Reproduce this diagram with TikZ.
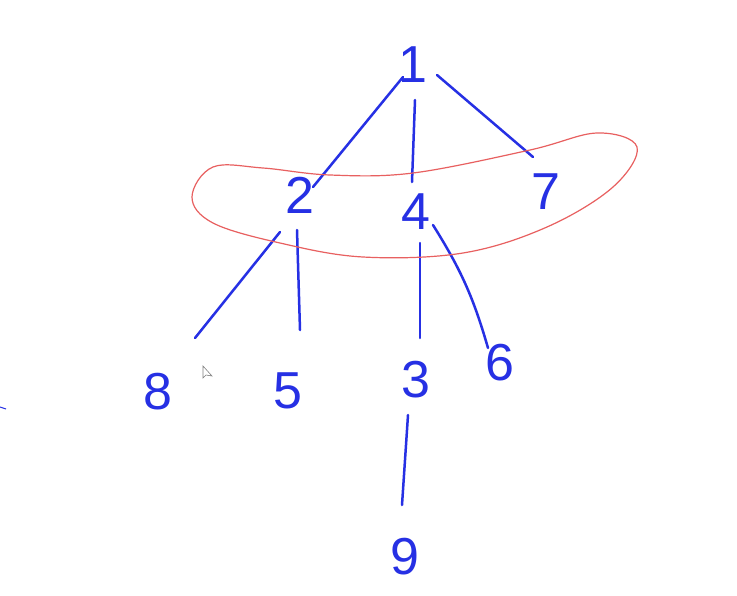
\documentclass[tikz,border=0pt]{standalone}
\usepackage{fontspec}
\setmainfont{Liberation Sans}
\definecolor{ink}{RGB}{38,48,228}
\definecolor{loop}{RGB}{232,96,96}
\tikzset{
  num/.style={circle,inner sep=0pt,minimum size=36pt,text=ink,font=\fontsize{52}{52}\selectfont},
  edge/.style={draw=ink,line width=2.5pt,line cap=round},
  group/.style={draw=loop,line width=1.2pt}
}
\begin{document}
\begin{tikzpicture}[x=1pt,y=-1pt]
\fill[white] (0,0) rectangle (737,595);
\useasboundingbox (0,0) rectangle (737,595);
% nodes
\node[num] (n1) at (413,65) {1};
\node[num] (n2) at (300,195) {2};
\node[num] (n4) at (416,212) {4};
\node[num] (n7) at (546,192) {7};
\node[num] (n8) at (158,392) {8};
\node[num] (n5) at (288,391) {5};
\node[num] (n3) at (416,380) {3};
\node[num] (n6) at (500,363) {6};
\node[num] (n9) at (405,557) {9};
% edges
\draw[edge] ([shift={(-10,12)}]n1.center) -- ([shift={(13,-8)}]n2.center);
\draw[edge] ([shift={(2,35)}]n1.center) -- ([shift={(-4,-30)}]n4.center);
\draw[edge] ([shift={(24,10)}]n1.center) -- ([shift={(-13,-35)}]n7.center);
\draw[edge] ([shift={(-20,37)}]n2.center) -- ([shift={(37,-54)}]n8.center);
\draw[edge] ([shift={(-3,35)}]n2.center) -- ([shift={(12,-61)}]n5.center);
\draw[edge] ([shift={(4,31)}]n4.center) -- ([shift={(4,-42)}]n3.center);
\draw[edge] ([shift={(17,13)}]n4.center) to[bend left=8] ([shift={(-12,-15)}]n6.center);
\draw[edge] ([shift={(-8,35)}]n3.center) -- ([shift={(-3,-52)}]n9.center);
% red loop
\draw[group] plot[smooth cycle,tension=0.6] coordinates {
  (192,197) (213,167) (263,168) (330,175) (413,173) (530,150) (597,133)
  (637,147) (613,187) (547,227) (463,253) (363,257) (280,243) (213,223)};
% cursor and stray mark
\draw[gray,line width=0.6pt,fill=white] (203,366) -- (203,378) -- (206,375) -- (212,376) -- cycle;
\draw[ink,line width=1pt] (0,407) -- (6,409);
\end{tikzpicture}
\end{document}
